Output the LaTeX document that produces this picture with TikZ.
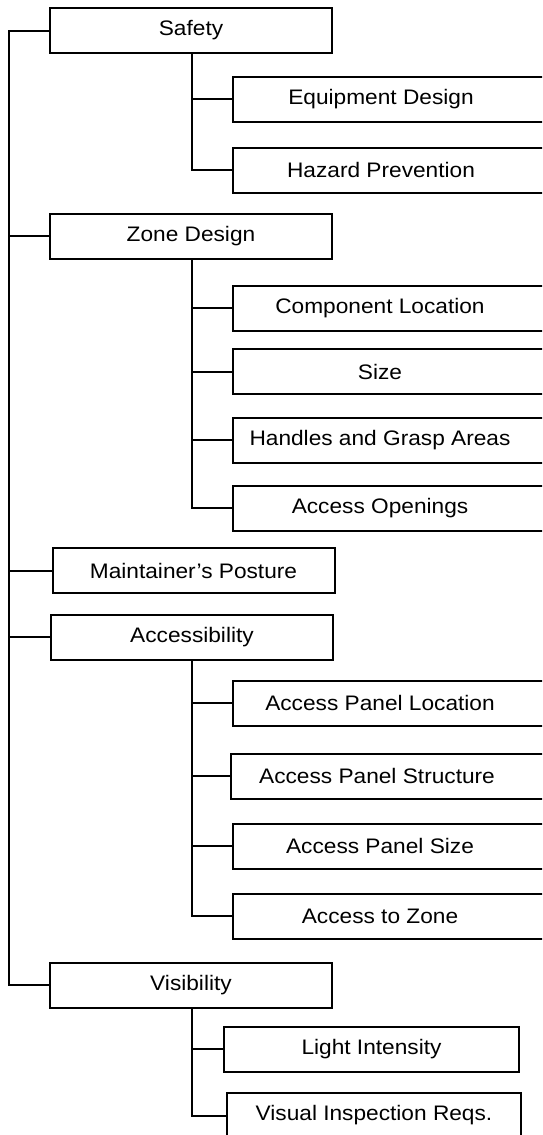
\documentclass[tikz,border=0pt]{standalone}
\usepackage{fontspec}
\usepackage{graphicx}
\setmainfont{Liberation Sans}
\newcommand\hs[1]{\scalebox{1.08}[1]{#1}}
\tikzset{
  lw/.style={line width=2pt},
  txt/.style={font=\fontsize{21}{25}\selectfont, inner sep=0pt},
  topbox/.style={draw, lw, minimum width=282, minimum height=45, inner sep=0pt, txt},
  child/.style={draw, lw, minimum width=320, minimum height=45, inner sep=0pt, anchor=west},
  link/.style={draw, lw},
}
\begin{document}
\begin{tikzpicture}[x=1pt, y=-1pt]
\useasboundingbox (0,0) rectangle (542,1135);
\clip (0,0) rectangle (542,1135);
\fill[white] (0,0) rectangle (542,1135);

% top-level categories
\node[topbox] (safety)  at (191,30.5)  {\hs{Safety}};
\node[topbox] (zone)    at (191,236)   {\hs{Zone Design}};
\node[topbox] (posture) at (193.5,570.5) {\hs{Maintainer’s Posture}};
\node[topbox] (access)  at (192,637)   {\hs{Accessibility}};
\node[topbox] (vis)     at (191,985)   {\hs{Visibility}};

% sub-items
\node[child, label={[txt, xshift=-12pt]center:\hs{Equipment Design}}] (equip) at (232,99) {};
\node[child, label={[txt, xshift=-12pt]center:\hs{Hazard Prevention}}] (hazard) at (232,170) {};

\node[child, label={[txt, xshift=-13pt]center:\hs{Component Location}}] (comp) at (232,308) {};
\node[child, label={[txt, xshift=-13pt]center:\hs{Size}}] (size) at (232,371.5) {};
\node[child, label={[txt, xshift=-13pt]center:\hs{Handles and Grasp Areas}}] (handles) at (232,440) {};
\node[child, label={[txt, xshift=-13pt]center:\hs{Access Openings}}] (open) at (232,508) {};

\node[child, label={[txt, xshift=-13pt]center:\hs{Access Panel Location}}] (apl) at (232,703) {};
\node[child, label={[txt, xshift=-14pt]center:\hs{Access Panel Structure}}] (aps) at (230,776) {};
\node[child, label={[txt, xshift=-13pt]center:\hs{Access Panel Size}}] (apsize) at (232,846) {};
\node[child, label={[txt, xshift=-13pt]center:\hs{Access to Zone}}] (atz) at (232,916) {};

\node[child, minimum width=295, label={[txt]center:\hs{Light Intensity}}] (light) at (223,1049) {};
\node[child, minimum width=294, label={[txt]center:\hs{Visual Inspection Reqs.}}] (visual) at (226,1115.5) {};

% main trunk
\coordinate (t0) at (9,30.5);
\coordinate (t1) at (9,985);
\draw[link] (safety.west) -- (t0) -- (t1) -- (vis.west);
\draw[link] (zone.west) -- (zone.west -| t0);
\draw[link] (posture.west) -- (posture.west -| t0);
\draw[link] (access.west) -- (access.west -| t0);

% branch trunks
\coordinate (b) at (192,0);
\draw[link] (safety.south -| b) |- (hazard.west);
\draw[link] (equip.west) -- (equip.west -| b);

\draw[link] (zone.south -| b) |- (open.west);
\draw[link] (comp.west) -- (comp.west -| b);
\draw[link] (size.west) -- (size.west -| b);
\draw[link] (handles.west) -- (handles.west -| b);

\draw[link] (access.south -| b) |- (atz.west);
\draw[link] (apl.west) -- (apl.west -| b);
\draw[link] (aps.west) -- (aps.west -| b);
\draw[link] (apsize.west) -- (apsize.west -| b);

\draw[link] (vis.south -| b) |- (visual.west);
\draw[link] (light.west) -- (light.west -| b);
\end{tikzpicture}
\end{document}
